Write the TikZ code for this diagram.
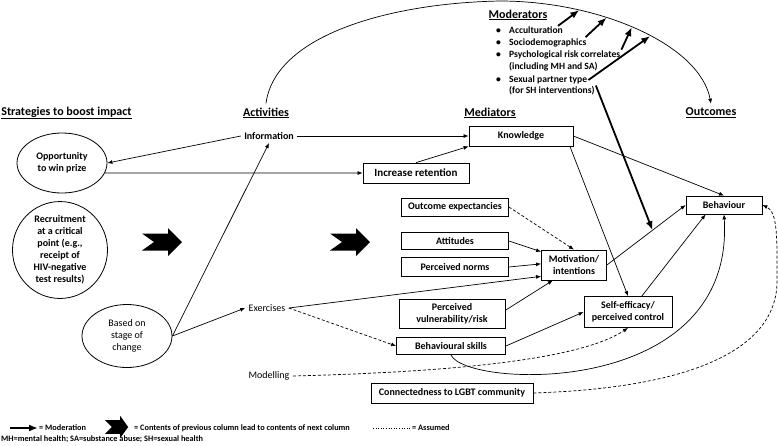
\documentclass[tikz,border=0pt]{standalone}
\usepackage{fontspec}
\setmainfont{Carlito}
\usetikzlibrary{arrows.meta,shapes.geometric,calc}

\newcommand{\modbul}{\makebox[13pt][l]{\textbullet}}

\tikzset{
  >={Latex[length=5pt,width=4pt]},
  every node/.style={font=\bfseries\fontsize{10}{12}\selectfont},
  medbox/.style={draw, line width=0.8pt, align=center, inner sep=1pt},
  strat/.style={draw, ellipse, line width=0.8pt, align=center, inner sep=0pt},
  head/.style={font=\bfseries\fontsize{12}{14}\selectfont, outer sep=1pt},
  modtxt/.style={anchor=west, inner sep=1pt, font=\bfseries\fontsize{9.6}{11}\selectfont},
  legtxt/.style={anchor=west, inner sep=1pt, font=\bfseries\fontsize{8.3}{10}\selectfont},
  link/.style={->, line width=0.7pt},
  assumed/.style={->, line width=0.7pt, dash pattern=on 3pt off 2pt},
  moder/.style={-{Latex[length=9pt,width=7pt]}, line width=1.8pt},
  bigarrow/.pic={\fill (0,-8.5) -- (26,-8.5) -- (26,-14) -- (40,0) -- (26,14) -- (26,8.5) -- (0,8.5) -- (12,0) -- cycle;}
}

\begin{document}
\begin{tikzpicture}[x=1pt,y=-1pt]
\useasboundingbox (0,0) rectangle (778,445);

% column heads
\node[head, anchor=west] (strat) at (-3,113) {\underline{Strategies to boost impact}};
\node[head] (act) at (266,113) {\underline{Activities}};
\node[head] (medh) at (490,113) {\underline{Mediators}};
\node[head] (outc) at (711,113) {\underline{Outcomes}};
\node[head] (modh) at (518,15) {\underline{Moderators}};

% moderators
\node[modtxt] (acc) at (495,30.5) {\modbul Acculturation};
\node[modtxt] (soc) at (495,42.5) {\modbul Sociodemographics};
\node[modtxt] (psy) at (495,55) {\modbul Psychological risk correlates};
\node[modtxt] (psyb) at (508,66.5) {(including MH and SA)};
\node[modtxt] (sex) at (495,80) {\modbul Sexual partner type};
\node[modtxt] (fsh) at (508,91) {(for SH interventions)};

% strategies
\node[strat, minimum width=90, minimum height=60] (opp) at (62,163) {Opportunity\\to win prize};
\node[strat, minimum width=95, minimum height=92] (rec) at (60,250) {Recruitment\\at a critical\\point (e.g.,\\receipt of\\HIV-negative\\test results)};
\node[strat, font=\fontsize{10}{12}\selectfont, minimum width=90, minimum height=63] (base) at (127,336) {Based on\\stage of\\change};

% activities
\node (info) at (269,136) {Information};
\node[font=\fontsize{10}{12}\selectfont] (exe) at (267,308) {Exercises};
\node[font=\fontsize{10}{12}\selectfont] (mod) at (269,376) {Modelling};

% mediators
\node[medbox, minimum width=104, minimum height=20] (know) at (521,136) {Knowledge};
\node[medbox, minimum width=106, minimum height=20, font=\bfseries\fontsize{11}{13}\selectfont] (ret) at (416,173) {Increase retention};
\node[medbox, minimum width=107, minimum height=18] (oexp) at (455,207) {Outcome expectancies};
\node[medbox, minimum width=107, minimum height=17] (att) at (455,241) {Attitudes};
\node[medbox, minimum width=107, minimum height=19] (norm) at (455,267) {Perceived norms};
\node[medbox, minimum width=106, minimum height=29] (vul) at (452,314) {Perceived\\vulnerability/risk};
\node[medbox, minimum width=109, minimum height=17] (skl) at (451,346) {Behavioural skills};
\node[medbox, minimum width=65, minimum height=30] (mot) at (574,265) {Motivation/\\intentions};
\node[medbox, minimum width=88, minimum height=31] (sel) at (628,312) {Self-efficacy/\\perceived control};
\node[medbox, minimum width=162, minimum height=20] (con) at (452,393) {Connectedness to LGBT community};

% outcome
\node[medbox, minimum width=76, minimum height=18] (beh) at (724,205) {Behaviour};

% column arrows
\pic at (142,242) {bigarrow};
\pic at (330,242) {bigarrow};

% moderation arc
\draw[link] (act.north) .. controls (275,35) and (390,3) .. (500,1)
  .. controls (600,1) and (700,45) .. coordinate[pos=.27] (m1) coordinate[pos=.37] (m2)
  coordinate[pos=.47] (m3) coordinate[pos=.55] (m4) (outc.north);
\draw[moder] ($(acc.north east)+(-6,0)$) -- (m1);
\draw[moder] ($(soc.north east)+(-2,0)$) -- (m2);
\draw[moder] (psy.north east) -- (m3);
\draw[moder] (sex.east) -- (m4);
\coordinate (m5) at ($(mot.east)!0.58!(beh.west)$);
\draw[moder] (fsh.north east) -- (m5);

% links
\draw[link] (info.west) -- (opp.east);
\draw[link] (info.east) -- (know.west);
\draw[link] (opp.-13) -- (ret.west);
\draw[link] (ret.north) -- (know.south west);
\draw[link] (base.east) -- (info.south);
\draw[link] (base.east) -- (exe.west);
\draw[link] (exe.east) -- (mot.199);
\draw[assumed] (exe.east) -- (skl.west);
\draw[assumed] (mod.east) .. controls (450,372) and (580,360) .. (sel.south);
\draw[link] (know.east) -- (beh.north);
\draw[link] (know.-12) -- (sel.north);
\draw[assumed] (oexp.east) -- (mot.north);
\draw[link] (att.east) -- (mot.158);
\draw[link] (norm.east) -- (mot.178);
\draw[link] (vul.4) -- (mot.216);
\draw[link] (mot.east) -- (beh.west);
\draw[link] (sel.49) -- (beh.207);
\draw[link] (skl.east) -- (sel.west);
\draw[link] (skl.south) .. controls (465,388) and (735,400) .. (beh.south);
\draw[assumed] (con.east) .. controls (690,388) and (778,350) .. (777,280)
  .. controls (777,240) and (778,212) .. (beh.east);

% legend
\coordinate (lm) at (10,428);
\node[legtxt] (lmod) at (38,428) {= Moderation};
\draw[moder] (lm) -- (lmod.west);
\pic[xscale=.58, yscale=.8] at (105,427) {bigarrow};
\node[legtxt] (lcont) at (133,428) {= Contents of previous column lead to contents of next column};
\coordinate (la) at (373,428);
\node[legtxt] (lass) at (411,428) {= Assumed};
\draw[dotted, line width=0.6pt] (la) -- (lass.west);
\node[legtxt] (abbr) at (0,439) {MH=mental health; SA=substance abuse; SH=sexual health};
\end{tikzpicture}
\end{document}
